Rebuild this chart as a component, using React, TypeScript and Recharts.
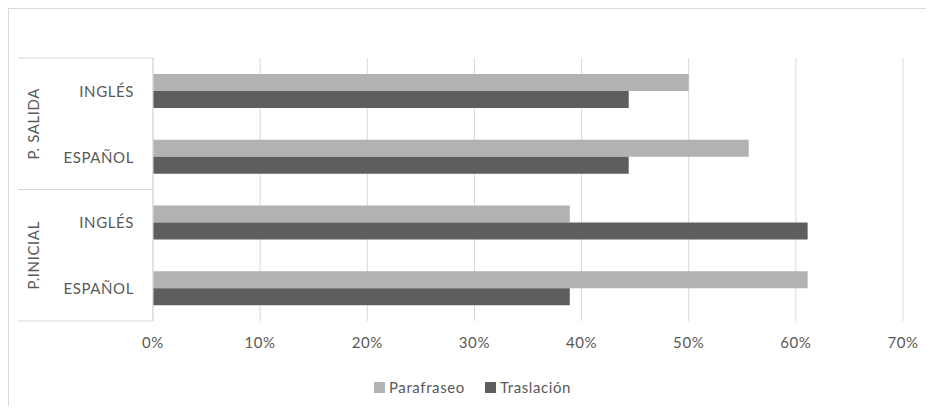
import React from 'react'
import {
  BarChart,
  Bar,
  XAxis,
  YAxis,
  CartesianGrid
} from 'recharts'

// survey groups (outer level) and languages (inner level), top to bottom
const groups = ['P. SALIDA', 'P. SALIDA', 'P.INICIAL', 'P.INICIAL']
const languages = ['INGLÉS', 'ESPAÑOL', 'INGLÉS', 'ESPAÑOL']
const parafraseo = [0.5, 0.556, 0.389, 0.611]
const traslacion = [0.444, 0.444, 0.611, 0.389]
const xTicks = [0, 0.1, 0.2, 0.3, 0.4, 0.5, 0.6, 0.7]

const data = languages.map((lang, i) => ({
  key: `${groups[i]}|${lang}`,
  group: groups[i],
  lang,
  parafraseo: parafraseo[i],
  traslacion: traslacion[i]
}))

const W = 934
const H = 414
const PLOT_LEFT = 153
const PLOT_TOP = 58
const PLOT_BOTTOM = 321
const AXIS_LEFT = 18
const BAND = (PLOT_BOTTOM - PLOT_TOP) / data.length

const FONT = 'Lato, "Open Sans", sans-serif'
const TEXT = '#595959'
const LINE = '#d9d9d9'
const LIGHT = '#b2b2b2'
const DARK = '#5e5e5e'
const SPACING = '0.6px'

// two-level category tick: language label, plus the group label and divider lines
const CategoryTick = ({ y, index }: any) => {
  const row = data[index]
  if (!row) return null
  const isFirstOfGroup = index === 0 || data[index - 1].group !== row.group
  const groupSize = data.filter(d => d.group === row.group).length
  const isLast = index === data.length - 1
  const groupMid = y - BAND / 2 + (BAND * groupSize) / 2
  return (
    <g>
      <text
        x={PLOT_LEFT - 19}
        y={y}
        textAnchor="end"
        dominantBaseline="central"
        fill={TEXT}
        fontSize={15}
        fontFamily={FONT}
        letterSpacing={SPACING}
      >
        {row.lang}
      </text>
      {isFirstOfGroup && (
        <>
          <line x1={AXIS_LEFT} x2={PLOT_LEFT} y1={y - BAND / 2} y2={y - BAND / 2} stroke={LINE} />
          <text
            x={33}
            y={groupMid}
            transform={`rotate(-90, 33, ${groupMid})`}
            textAnchor="middle"
            dominantBaseline="central"
            fill={TEXT}
            fontSize={15}
            fontFamily={FONT}
            letterSpacing={SPACING}
          >
            {row.group}
          </text>
        </>
      )}
      {isLast && (
        <line x1={AXIS_LEFT} x2={PLOT_LEFT} y1={y + BAND / 2} y2={y + BAND / 2} stroke={LINE} />
      )}
    </g>
  )
}

export default function App() {
  return (
    <div style={{ position: 'relative', width: W, height: H, margin: -8, overflow: 'hidden', background: '#fff' }}>
      {/* chart frame */}
      <div style={{
        position: 'absolute',
        left: 8,
        top: 8,
        width: W,
        height: H,
        border: `1px solid ${LINE}`
      }} />

      <BarChart
        width={W}
        height={H}
        data={data}
        layout="vertical"
        margin={{ top: PLOT_TOP, right: 31, left: AXIS_LEFT, bottom: H - PLOT_BOTTOM - 30 }}
        barSize={17}
        barGap={0}
        style={{ position: 'absolute', left: 0, top: 0 }}
      >
        <CartesianGrid horizontal={false} stroke={LINE} />
        <XAxis
          type="number"
          domain={[0, 0.7]}
          ticks={xTicks}
          height={30}
          axisLine={false}
          tickLine={false}
          tick={{ fill: TEXT, fontSize: 15, fontFamily: FONT, letterSpacing: SPACING }}
          tickFormatter={(v) => `${Math.round(v * 100)}%`}
          tickMargin={10}
        />
        <YAxis
          type="category"
          dataKey="key"
          width={PLOT_LEFT - AXIS_LEFT}
          axisLine={{ stroke: LINE }}
          tickLine={false}
          tick={<CategoryTick />}
          interval={0}
        />
        <Bar dataKey="parafraseo" name="Parafraseo" fill={LIGHT} isAnimationActive={false} />
        <Bar dataKey="traslacion" name="Traslación" fill={DARK} isAnimationActive={false} />
      </BarChart>

      {/* Legend */}
      <div style={{
        position: 'absolute',
        left: 374,
        top: 378,
        display: 'flex',
        gap: '20px',
        fontSize: '15px',
        fontFamily: FONT,
        letterSpacing: SPACING,
        color: TEXT
      }}>
        {[
          { color: LIGHT, label: 'Parafraseo' },
          { color: DARK, label: 'Traslación' }
        ].map(item => (
          <div key={item.label} style={{ display: 'flex', alignItems: 'center', gap: '4px' }}>
            <div style={{ width: 11, height: 11, background: item.color }} />
            {item.label}
          </div>
        ))}
      </div>
    </div>
  )
}
